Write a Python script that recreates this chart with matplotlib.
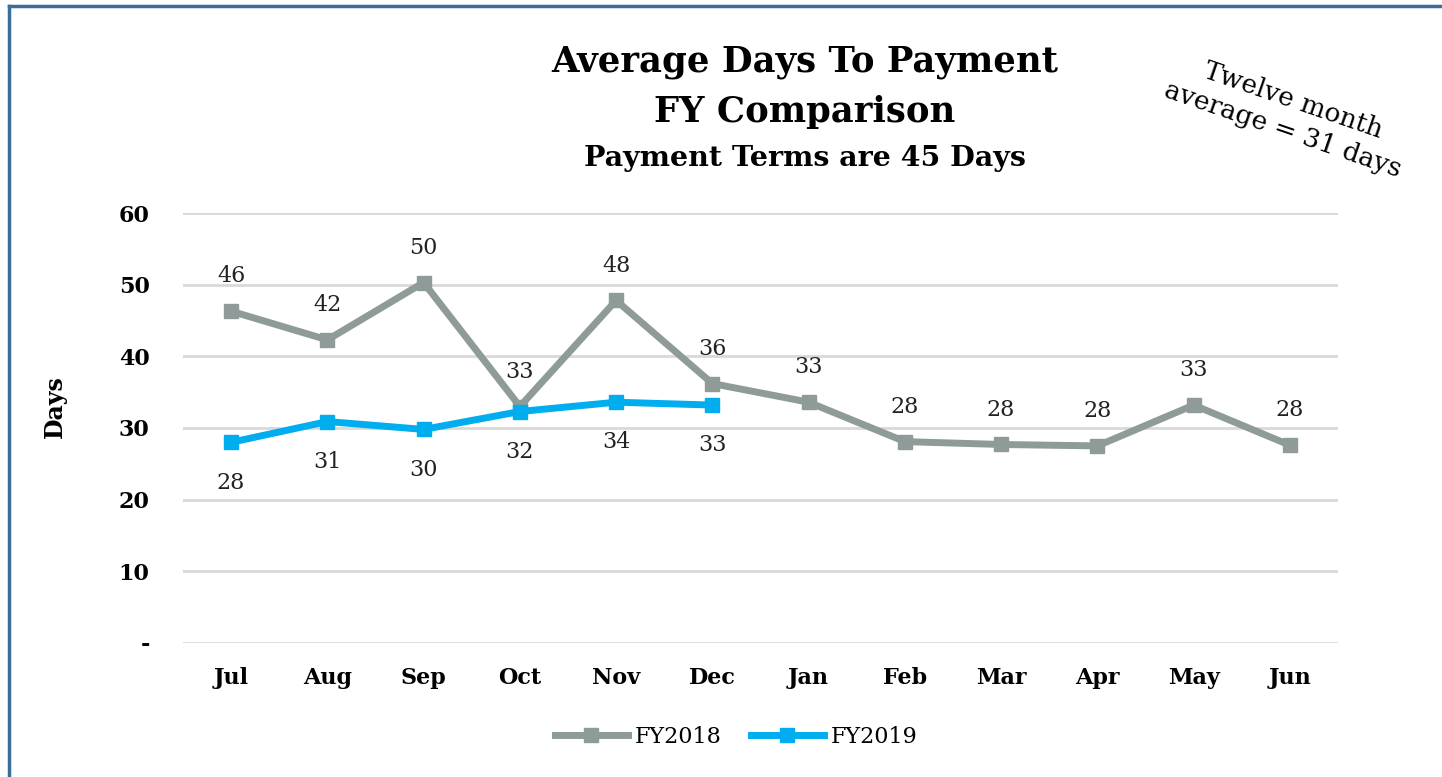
import matplotlib
matplotlib.use("Agg")
import matplotlib.pyplot as plt
from matplotlib.lines import Line2D

months = ["Jul", "Aug", "Sep", "Oct", "Nov", "Dec", "Jan", "Feb", "Mar", "Apr", "May", "Jun"]
fy2018 = [46.3, 42.3, 50.3, 33.0, 47.8, 36.2, 33.6, 28.1, 27.7, 27.5, 33.2, 27.6]
fy2019 = [28.0, 30.9, 29.8, 32.3, 33.6, 33.2]
fy2018_labels = ["46", "42", "50", "33", "48", "36", "33", "28", "28", "28", "33", "28"]
fy2019_labels = ["28", "31", "30", "32", "34", "33"]
yticks = [0, 10, 20, 30, 40, 50, 60]
ytick_labels = ["-", "10", "20", "30", "40", "50", "60"]

FONT = "DejaVu Serif"
plt.rcParams["font.family"] = FONT

gray = "#8f9b99"
blue = "#00aeef"

fig = plt.figure(figsize=(14.42, 7.77), dpi=100)
ax = fig.add_axes([183 / 1442, 1 - 643 / 777, (1338 - 183) / 1442, (643 - 213) / 777])

x = list(range(len(months)))
ax.plot(x, fy2018, color=gray, lw=5, marker="s", ms=10, label="FY2018", zorder=3)
ax.plot(x[:len(fy2019)], fy2019, color=blue, lw=5, marker="s", ms=10, label="FY2019", zorder=4)

for i, (v, t) in enumerate(zip(fy2018, fy2018_labels)):
    ax.annotate(t, (i, v), xytext=(0, 25), textcoords="offset points", ha="center", va="center",
                fontsize=16, color="#222222")
for i, (v, t) in enumerate(zip(fy2019, fy2019_labels)):
    ax.annotate(t, (i, v), xytext=(0, -29), textcoords="offset points", ha="center", va="center",
                fontsize=16, color="#222222")

ax.set_xlim(-0.5, len(months) - 0.5)
ax.set_ylim(0, 60)
ax.set_yticks(yticks)
ax.set_yticklabels(ytick_labels, fontsize=16, fontweight="bold")
ax.set_xticks(x)
ax.set_xticklabels(months, fontsize=16, fontweight="bold")
ax.tick_params(axis="both", length=0)
ax.tick_params(axis="x", pad=17)
ax.tick_params(axis="y", pad=24)
ax.grid(axis="y", color="#d9d9d9", lw=2)
ax.set_axisbelow(True)
for s in ax.spines.values():
    s.set_visible(False)

fig.text(55 / 1442, 1 - 407 / 777, "Days", rotation=90, ha="center", va="center",
         fontsize=17, fontweight="bold")

fig.text(805 / 1442, 1 - 62 / 777, "Average Days To Payment", ha="center", va="center",
         fontsize=25.5, fontweight="bold")
fig.text(805 / 1442, 1 - 112 / 777, "FY Comparison", ha="center", va="center",
         fontsize=25.5, fontweight="bold")
fig.text(805 / 1442, 1 - 158 / 777, "Payment Terms are 45 Days", ha="center", va="center",
         fontsize=20.5, fontweight="bold")

fig.text(1288 / 1442, 1 - 115 / 777, "Twelve month\naverage = 31 days", ha="center", va="center",
         fontsize=19, rotation=-19, linespacing=1.3)

handles = [Line2D([], [], color=gray, lw=5, marker="s", ms=10),
           Line2D([], [], color=blue, lw=5, marker="s", ms=10)]
fig.legend(handles, ["FY2018", "FY2019"], loc="center", bbox_to_anchor=(736 / 1442, 1 - 737 / 777),
           ncol=2, frameon=False, fontsize=16, handlelength=3.3, handletextpad=0.3, columnspacing=1.3)

border = "#3b6e99"
fig.add_artist(Line2D([9 / 1442, 9 / 1442], [0, 1 - 6 / 777], color=border, lw=2.5, transform=fig.transFigure))
fig.add_artist(Line2D([9 / 1442, 1], [1 - 6 / 777, 1 - 6 / 777], color=border, lw=2.5, transform=fig.transFigure))

fig.savefig("out.png", dpi=100)
